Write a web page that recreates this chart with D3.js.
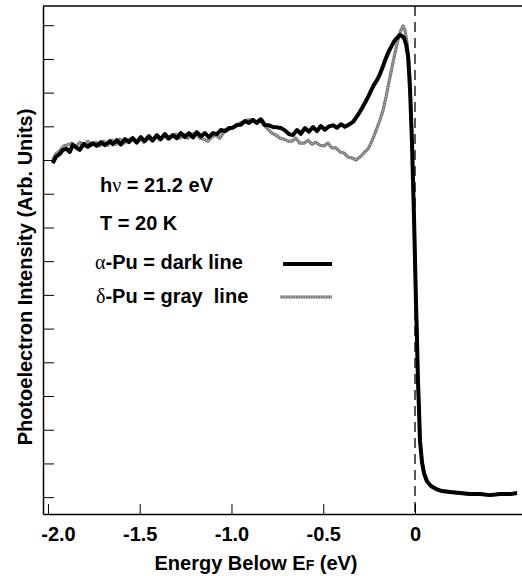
<!DOCTYPE html>
<html>
<head>
<meta charset="utf-8">
<script src="https://cdn.jsdelivr.net/npm/d3@7"></script>
<style>
  body { margin: 0; background: #fff; }
  svg text { font-family: "Liberation Sans", Arial, sans-serif; font-weight: bold; fill: #000; }
  .greek { font-family: "Liberation Serif", "DejaVu Serif", serif; font-weight: normal; }
</style>
</head>
<body>
<div id="chart"></div>
<script>
// energy below E_F (eV) and intensity (arb. units, one unit per y tick)
const alphaEnergy = [-1.974,-1.957,-1.936,-1.919,-1.898,-1.881,-1.865,-1.843,-1.827,-1.805,-1.783,-1.756,-1.734,-1.712,-1.690,-1.663,-1.647,-1.625,-1.603,-1.581,-1.559,-1.538,-1.516,-1.494,-1.472,-1.450,-1.429,-1.407,-1.385,-1.363,-1.341,-1.320,-1.298,-1.276,-1.254,-1.232,-1.210,-1.189,-1.167,-1.145,-1.123,-1.101,-1.080,-1.058,-1.036,-1.014,-0.992,-0.971,-0.949,-0.927,-0.905,-0.883,-0.862,-0.840,-0.818,-0.796,-0.774,-0.752,-0.731,-0.709,-0.687,-0.665,-0.643,-0.622,-0.600,-0.578,-0.556,-0.534,-0.513,-0.491,-0.469,-0.447,-0.425,-0.403,-0.382,-0.360,-0.338,-0.322,-0.305,-0.289,-0.273,-0.256,-0.240,-0.224,-0.207,-0.191,-0.174,-0.158,-0.142,-0.125,-0.109,-0.093,-0.082,-0.071,-0.060,-0.049,-0.038,-0.033,-0.027,-0.022,-0.016,-0.011,-0.005,0.000,0.005,0.011,0.016,0.022,0.027,0.038,0.049,0.065,0.087,0.115,0.147,0.191,0.245,0.300,0.354,0.409,0.463,0.518,0.556];
const alphaIntensity = [9.91,10.09,10.18,10.30,10.33,10.24,10.45,10.36,10.30,10.48,10.39,10.50,10.42,10.53,10.44,10.56,10.47,10.59,10.46,10.62,10.53,10.65,10.52,10.68,10.56,10.71,10.58,10.74,10.62,10.77,10.64,10.74,10.65,10.80,10.68,10.80,10.67,10.83,10.70,10.80,10.68,10.80,10.77,10.89,10.86,10.95,10.96,11.04,11.05,11.16,11.10,11.19,11.10,11.21,11.04,11.03,10.98,10.97,10.95,10.88,10.77,10.74,10.89,10.78,10.95,10.84,10.98,10.86,11.01,10.90,11.00,11.03,10.96,11.06,10.99,11.05,11.13,11.25,11.39,11.54,11.69,11.87,12.05,12.23,12.37,12.55,12.79,13.03,13.23,13.41,13.56,13.65,13.71,13.68,13.62,13.44,13.09,12.67,12.08,11.34,10.45,9.41,8.22,7.03,5.85,4.66,3.47,2.58,1.69,1.04,0.71,0.47,0.33,0.24,0.18,0.15,0.12,0.09,0.09,0.06,0.09,0.09,0.12];

const deltaEnergy = [-1.974,-1.957,-1.936,-1.914,-1.892,-1.870,-1.848,-1.827,-1.805,-1.783,-1.761,-1.739,-1.718,-1.696,-1.674,-1.652,-1.630,-1.608,-1.587,-1.565,-1.543,-1.521,-1.499,-1.478,-1.456,-1.434,-1.412,-1.390,-1.369,-1.347,-1.325,-1.303,-1.281,-1.260,-1.238,-1.216,-1.194,-1.172,-1.150,-1.129,-1.107,-1.085,-1.063,-1.041,-1.020,-0.998,-0.976,-0.954,-0.932,-0.911,-0.889,-0.867,-0.845,-0.823,-0.802,-0.780,-0.758,-0.736,-0.714,-0.692,-0.671,-0.649,-0.627,-0.605,-0.583,-0.562,-0.540,-0.518,-0.496,-0.474,-0.453,-0.431,-0.409,-0.387,-0.365,-0.344,-0.322,-0.300,-0.278,-0.256,-0.240,-0.224,-0.207,-0.191,-0.174,-0.158,-0.142,-0.125,-0.109,-0.093,-0.082,-0.071,-0.065,-0.055,-0.044,-0.033,-0.027,-0.022,-0.016,-0.011,-0.005,0.000,0.005,0.011,0.016,0.022,0.027,0.038,0.049,0.065,0.087,0.115,0.147,0.191,0.245,0.300,0.354,0.409,0.463,0.518,0.556];
const deltaIntensity = [10.00,10.18,10.27,10.42,10.45,10.50,10.39,10.53,10.42,10.56,10.44,10.53,10.42,10.56,10.44,10.59,10.47,10.62,10.50,10.59,10.65,10.53,10.65,10.53,10.68,10.56,10.71,10.59,10.74,10.62,10.71,10.77,10.65,10.77,10.65,10.77,10.80,10.65,10.62,10.56,10.68,10.74,10.65,10.83,10.89,10.95,11.01,11.10,11.13,11.19,11.19,11.13,11.21,11.04,10.92,10.80,10.74,10.65,10.62,10.56,10.56,10.65,10.50,10.50,10.59,10.47,10.53,10.44,10.42,10.50,10.36,10.36,10.24,10.21,10.09,10.06,10.00,10.09,10.21,10.33,10.50,10.71,10.95,11.19,11.48,11.87,12.31,12.76,13.18,13.56,13.77,13.92,13.98,13.86,13.50,12.91,12.23,11.42,10.45,9.41,8.22,7.03,5.85,4.66,3.47,2.58,1.69,1.04,0.71,0.47,0.33,0.24,0.18,0.15,0.12,0.09,0.09,0.06,0.09,0.09,0.12];

const xTicks = [-2.0, -1.5, -1.0, -0.5, 0];
const xTickLabels = ["-2.0", "-1.5", "-1.0", "-0.5", "0"];
const yTicks = d3.range(0, 15);

const width = 522, height = 576;
const margin = { top: 6, right: 0, bottom: 62, left: 43 };

const svg = d3.select("#chart")
    .append("svg")
    .attr("width", width)
    .attr("height", height);

const x = d3.scaleLinear()
    .domain([-2.027, 0.583])
    .range([margin.left, width - margin.right]);

const y = d3.scaleLinear()
    .domain([-0.5, 14.57])
    .range([height - margin.bottom, margin.top]);

// frame: top line
svg.append("line")
    .attr("x1", margin.left).attr("x2", width)
    .attr("y1", margin.top).attr("y2", margin.top)
    .attr("stroke", "#000").attr("stroke-width", 1.5);

// Fermi level marker
svg.append("line")
    .attr("x1", x(0)).attr("x2", x(0))
    .attr("y1", margin.top).attr("y2", height - margin.bottom)
    .attr("stroke", "#000").attr("stroke-width", 1.3)
    .attr("stroke-dasharray", "10,6");

// x axis, ticks pointing inward
const xAxis = svg.append("g")
    .attr("transform", `translate(0,${height - margin.bottom})`)
    .call(d3.axisBottom(x).tickValues(xTicks)
        .tickFormat((d, i) => xTickLabels[i])
        .tickSizeInner(-10).tickSizeOuter(0).tickPadding(13));
xAxis.select(".domain").attr("stroke-width", 1.5);
xAxis.selectAll("text").attr("font-size", 20);
xAxis.selectAll(".tick text").filter((d, i) => i === 0).attr("dx", 10);

// y axis, unlabelled ticks
const yAxis = svg.append("g")
    .attr("transform", `translate(${margin.left},0)`)
    .call(d3.axisLeft(y).tickValues(yTicks).tickFormat("")
        .tickSizeInner(-11).tickSizeOuter(0));
yAxis.select(".domain").attr("stroke-width", 1.5);

const line = d3.line()
    .x(d => x(d[0]))
    .y(d => y(d[1]));

const deltaData = deltaEnergy.map((e, i) => [e, deltaIntensity[i]]);
const alphaData = alphaEnergy.map((e, i) => [e, alphaIntensity[i]]);

// delta-Pu (gray)
svg.append("path")
    .datum(deltaData)
    .attr("fill", "none")
    .attr("stroke", "#777")
    .attr("stroke-width", 3.2)
    .attr("stroke-linejoin", "round")
    .attr("d", line);
svg.append("path")
    .datum(deltaData)
    .attr("fill", "none")
    .attr("stroke", "#c4c4c4")
    .attr("stroke-width", 1.3)
    .attr("stroke-dasharray", "1,1.5")
    .attr("d", line);

// alpha-Pu (dark)
svg.append("path")
    .datum(alphaData)
    .attr("fill", "none")
    .attr("stroke", "#000")
    .attr("stroke-width", 4)
    .attr("stroke-linejoin", "round")
    .attr("d", line);

// annotations
const t1 = svg.append("text").attr("x", 100).attr("y", 192).attr("font-size", 20);
t1.append("tspan").text("h");
t1.append("tspan").attr("class", "greek").text("ν");
t1.append("tspan").text(" = 21.2 eV");

svg.append("text").attr("x", 100).attr("y", 230).attr("font-size", 20).text("T = 20 K");

const t3 = svg.append("text").attr("x", 95).attr("y", 269).attr("font-size", 20);
t3.append("tspan").attr("class", "greek").text("α");
t3.append("tspan").text("-Pu = dark line");

const t4 = svg.append("text").attr("x", 96).attr("y", 303).attr("font-size", 20)
    .style("white-space", "pre");
t4.append("tspan").attr("class", "greek").text("δ");
t4.append("tspan").text("-Pu = gray  line");

// legend swatches
svg.append("line")
    .attr("x1", 283).attr("x2", 332).attr("y1", 264).attr("y2", 264)
    .attr("stroke", "#000").attr("stroke-width", 4);
svg.append("line")
    .attr("x1", 280).attr("x2", 332).attr("y1", 297).attr("y2", 297)
    .attr("stroke", "#777").attr("stroke-width", 3.2);
svg.append("line")
    .attr("x1", 280).attr("x2", 332).attr("y1", 297).attr("y2", 297)
    .attr("stroke", "#c4c4c4").attr("stroke-width", 1.3).attr("stroke-dasharray", "1,1.5");

// axis titles
const xt = svg.append("text")
    .attr("x", 256).attr("y", 570)
    .attr("text-anchor", "middle").attr("font-size", 20);
xt.append("tspan").text("Energy Below E");
xt.append("tspan").attr("font-size", 14).text("F");
xt.append("tspan").text(" (eV)");

svg.append("text")
    .attr("transform", "translate(32,277) rotate(-90)")
    .attr("text-anchor", "middle").attr("font-size", 20)
    .text("Photoelectron Intensity (Arb. Units)");
</script>
</body>
</html>
